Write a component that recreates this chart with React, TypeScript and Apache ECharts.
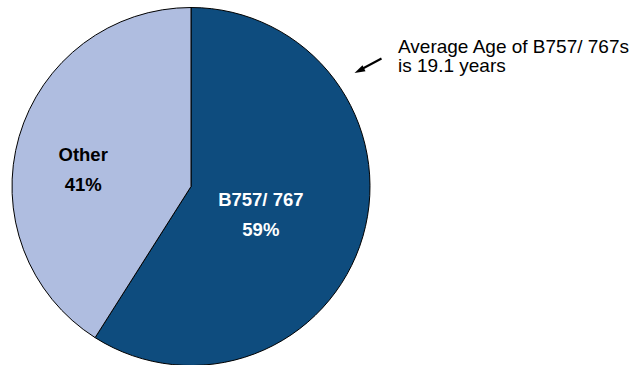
import React, { useEffect, useRef } from "react";
import * as echarts from "echarts";

const categories = ["B757/ 767", "Other"];
const shares = [59, 41];
const sliceColors = ["#0E4C7E", "#AFBDE0"];
const labelColors = ["#FFFFFF", "#000000"];
const labelOffsets: [number, number][] = [[-19, 2], [-19, 9]];
const noteLines = ["Average Age of B757/ 767s", "is 19.1 years"];

const FONT = "'Liberation Sans', Arial, Helvetica, sans-serif";

export default function App() {
  const ref = useRef<HTMLDivElement>(null);
  useEffect(() => {
    if (!ref.current) return;
    const chart = echarts.init(ref.current, undefined, { renderer: "svg" });
    chart.setOption({
      animation: false,
      backgroundColor: "#FFFFFF",
      series: [
        {
          type: "pie",
          center: [191, 186.5],
          radius: [0, 179],
          startAngle: 90,
          clockwise: true,
          silent: true,
          itemStyle: { borderColor: "#000000", borderWidth: 1 },
          labelLine: { show: false },
          data: categories.map((name, i) => ({
            name,
            value: shares[i],
            itemStyle: { color: sliceColors[i] },
            label: {
              show: true,
              position: "inner",
              offset: labelOffsets[i],
              color: labelColors[i],
              fontFamily: FONT,
              fontWeight: "bold",
              fontSize: 18.5,
              lineHeight: 30,
              formatter: "{b}\n{c}%",
            },
          })),
        },
      ],
      graphic: [
        {
          type: "text",
          left: 398,
          top: 37,
          style: {
            text: noteLines.join("\n"),
            font: `19px ${FONT}`,
            lineHeight: 19,
            fill: "#000000",
          },
        },
        {
          type: "line",
          shape: { x1: 381.5, y1: 58.5, x2: 360, y2: 70 },
          style: { stroke: "#000000", lineWidth: 2 },
        },
        {
          type: "polygon",
          shape: { points: [[354.5, 73], [362.5, 65.3], [365.5, 71.2]] },
          style: { fill: "#000000" },
        },
      ],
    });
    return () => chart.dispose();
  }, []);
  return (
    <div
      ref={ref}
      style={{ position: "fixed", left: 0, top: 0, width: 633, height: 365 }}
    />
  );
}
